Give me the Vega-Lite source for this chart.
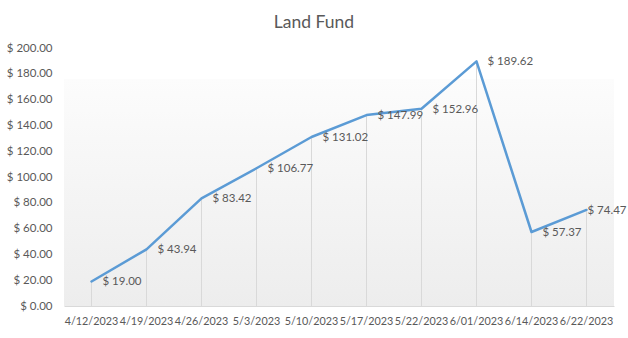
{
  "$schema": "https://vega.github.io/schema/vega-lite/v6.json",
  "width": 550,
  "height": 258,
  "autosize": {"type": "none"},
  "padding": {"left": 64, "top": 48, "right": 14, "bottom": 32},
  "background": "white",
  "title": {"text": "Land Fund", "font": "Lato", "fontSize": 17.5, "fontWeight": "normal", "color": "#595959", "anchor": "middle", "offset": 11, "dx": -25},
  "data": {"values": [
    {"date": "4/12/2023", "value": 19.00},
    {"date": "4/19/2023", "value": 43.94},
    {"date": "4/26/2023", "value": 83.42},
    {"date": "5/3/2023", "value": 106.77},
    {"date": "5/10/2023", "value": 131.02},
    {"date": "5/17/2023", "value": 147.99},
    {"date": "5/22/2023", "value": 152.96},
    {"date": "6/01/2023", "value": 189.62},
    {"date": "6/14/2023", "value": 57.37},
    {"date": "6/22/2023", "value": 74.47}
  ]},
  "encoding": {
    "x": {"field": "date", "type": "ordinal", "sort": null,
      "axis": {"title": null, "labelAngle": 0, "labelFont": "Lato", "labelFontSize": 10.8, "labelColor": "#595959", "labelPadding": 9, "labelOverlap": false, "ticks": false, "domainColor": "#d9d9d9", "domainWidth": 1, "grid": false}},
    "y": {"field": "value", "type": "quantitative",
      "scale": {"domain": [0, 200], "nice": false},
      "axis": {"title": null, "values": [0, 20, 40, 60, 80, 100, 120, 140, 160, 180, 200], "format": "$.2f", "labelFont": "Lato", "labelFontSize": 11.5, "labelColor": "#595959", "labelPadding": 12, "ticks": false, "domain": false, "grid": false}}
  },
  "layer": [
    {"mark": {"type": "rule", "color": "#d9d9d9", "strokeWidth": 1}, "encoding": {"y2": {"datum": 0}}},
    {"mark": {"type": "line", "color": "#5B9BD5", "strokeWidth": 2.5, "strokeJoin": "round", "strokeCap": "round"}},
    {"transform": [{"filter": "datum.date != '6/22/2023'"}],
      "mark": {"type": "text", "align": "left", "baseline": "middle", "dx": 11, "dy": 1, "font": "Lato", "fontSize": 11.5, "color": "#595959"},
      "encoding": {"text": {"field": "value", "type": "quantitative", "format": "$.2f"}}},
    {"transform": [{"filter": "datum.date == '6/22/2023'"}],
      "mark": {"type": "text", "align": "left", "baseline": "middle", "dx": 1, "dy": 1, "font": "Lato", "fontSize": 11.5, "color": "#595959"},
      "encoding": {"text": {"field": "value", "type": "quantitative", "format": "$.2f"}}}
  ],
  "config": {
    "locale": {"number": {"decimal": ".", "thousands": ",", "grouping": [3], "currency": ["$ ", ""]}},
    "view": {"stroke": null, "fill": {"gradient": "linear", "x1": 0, "y1": 0, "x2": 0, "y2": 1, "stops": [
      {"offset": 0, "color": "#ffffff"},
      {"offset": 0.119, "color": "#ffffff"},
      {"offset": 0.12, "color": "#fcfcfc"},
      {"offset": 1, "color": "#ededed"}
    ]}}
  }
}
